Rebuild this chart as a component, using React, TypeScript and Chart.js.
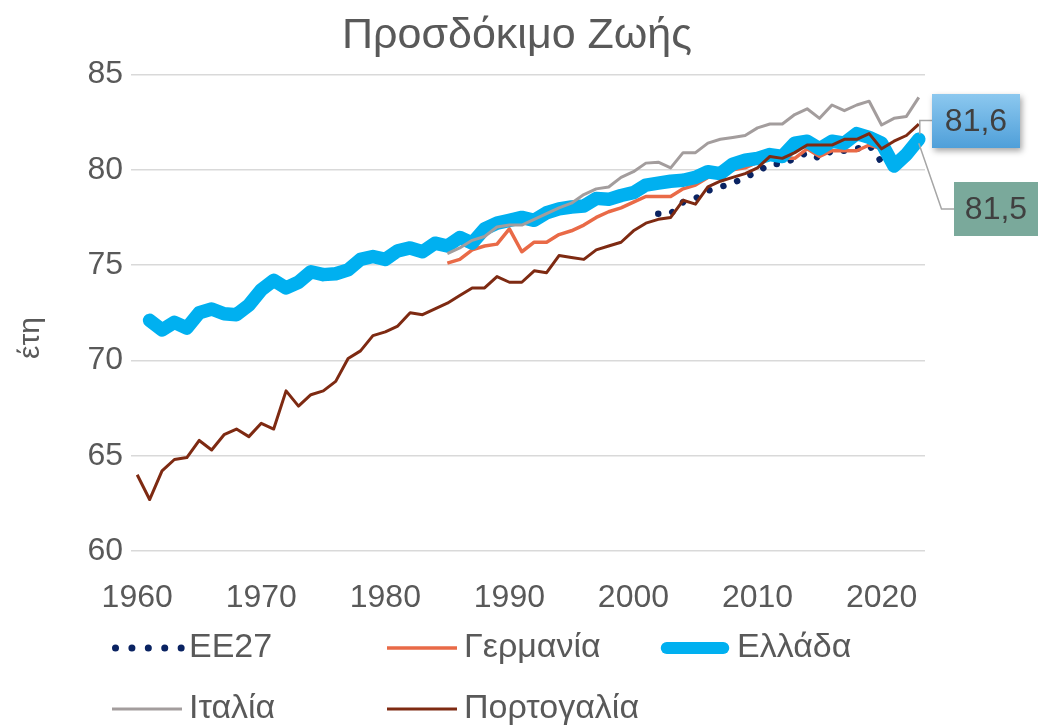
import React, { useEffect, useRef } from 'react';
import { Chart, registerables } from 'chart.js';

Chart.register(...registerables);

const FONT = "'Liberation Sans', Arial, sans-serif";
const TEXT_COLOR = '#595959';

const titleText = 'Προσδόκιμο Ζωής';
const yAxisTitle = 'έτη';

const years = [
  '1960', '1961', '1962', '1963', '1964', '1965', '1966', '1967', '1968', '1969',
  '1970', '1971', '1972', '1973', '1974', '1975', '1976', '1977', '1978', '1979',
  '1980', '1981', '1982', '1983', '1984', '1985', '1986', '1987', '1988', '1989',
  '1990', '1991', '1992', '1993', '1994', '1995', '1996', '1997', '1998', '1999',
  '2000', '2001', '2002', '2003', '2004', '2005', '2006', '2007', '2008', '2009',
  '2010', '2011', '2012', '2013', '2014', '2015', '2016', '2017', '2018', '2019',
  '2020', '2021', '2022', '2023',
];
const shownTickYears = ['1960', '1970', '1980', '1990', '2000', '2010', '2020'];
const yTicks = [60, 65, 70, 75, 80, 85];

// EE27 from 2002
const eu27Start = '2002';
const eu27 = [
  77.7, 77.7, 78.3, 78.5, 78.9, 79.1, 79.3, 79.6, 79.9, 80.3,
  80.3, 80.6, 80.9, 80.6, 81.0, 81.0, 81.1, 81.3, 80.4, 80.1,
  80.6, 81.5,
];

// Germany from 1985
const germanyStart = '1985';
const germany = [
  75.1, 75.3, 75.8, 76.0, 76.1, 76.9, 75.7, 76.2, 76.2, 76.6,
  76.8, 77.1, 77.5, 77.8, 78.0, 78.3, 78.6, 78.6, 78.6, 79.0,
  79.2, 79.6, 79.9, 80.0, 80.1, 80.4, 80.7, 80.6, 80.6, 81.1,
  80.7, 81.0, 81.0, 81.0, 81.3, 81.1,
];

// Greece from 1961
const greeceStart = '1961';
const greece = [
  72.1, 71.6, 72.0, 71.7, 72.5, 72.7, 72.45, 72.4, 72.9,
  73.7, 74.2, 73.8, 74.1, 74.65, 74.5, 74.55, 74.75, 75.3, 75.45,
  75.3, 75.75, 75.9, 75.7, 76.15, 76.0, 76.45, 76.15, 76.9, 77.2,
  77.35, 77.5, 77.35, 77.75, 77.95, 78.05, 78.1, 78.5, 78.45, 78.65,
  78.8, 79.2, 79.3, 79.4, 79.45, 79.6, 79.9, 79.8, 80.3, 80.5,
  80.6, 80.8, 80.7, 81.4, 81.5, 81.1, 81.5, 81.4, 81.9, 81.7,
  81.4, 80.2, 80.8, 81.6,
];

// Italy from 1985
const italyStart = '1985';
const italy = [
  75.6, 75.9, 76.3, 76.5, 77.0, 77.1, 77.1, 77.4, 77.7, 78.0,
  78.25, 78.7, 79.0, 79.1, 79.6, 79.9, 80.35, 80.4, 80.1, 80.9,
  80.9, 81.4, 81.6, 81.7, 81.8, 82.2, 82.4, 82.4, 82.9, 83.2,
  82.7, 83.4, 83.1, 83.4, 83.6, 82.35, 82.7, 82.8, 83.8,
];

// Portugal from 1960
const portugalStart = '1960';
const portugal = [
  64.0, 62.7, 64.2, 64.8, 64.9, 65.8, 65.3, 66.1, 66.4, 66.0,
  66.7, 66.4, 68.4, 67.6, 68.2, 68.4, 68.9, 70.1, 70.5, 71.3,
  71.5, 71.8, 72.5, 72.4, 72.7, 73.0, 73.4, 73.8, 73.8, 74.4,
  74.1, 74.1, 74.7, 74.6, 75.5, 75.4, 75.3, 75.8, 76.0, 76.2,
  76.8, 77.2, 77.4, 77.5, 78.4, 78.2, 79.1, 79.4, 79.6, 79.8,
  80.1, 80.7, 80.6, 80.9, 81.3, 81.3, 81.3, 81.6, 81.6, 81.9,
  81.1, 81.5, 81.8, 82.4,
];

const seriesLabels = ['ΕΕ27', 'Γερμανία', 'Ελλάδα', 'Ιταλία', 'Πορτογαλία'];
const labelGreece = '81,6';
const labelEu = '81,5';

function align(start: string, values: number[]): (number | null)[] {
  const offset = years.indexOf(start);
  return years.map((_, i) => {
    const k = i - offset;
    return k >= 0 && k < values.length ? values[k] : null;
  });
}

const overlayPlugin = {
  id: 'overlay',
  afterDraw(chart: any) {
    const ctx: CanvasRenderingContext2D = chart.ctx;
    const datasets = chart.data.datasets;

    // ---- title ----
    ctx.save();
    ctx.font = `43px ${FONT}`;
    ctx.fillStyle = TEXT_COLOR;
    ctx.textAlign = 'center';
    ctx.textBaseline = 'middle';
    ctx.fillText(titleText, 517, 36);
    ctx.restore();

    // ---- y axis title ----
    ctx.save();
    ctx.translate(31, 338);
    ctx.rotate(-Math.PI / 2);
    ctx.font = `30px ${FONT}`;
    ctx.fillStyle = TEXT_COLOR;
    ctx.textAlign = 'center';
    ctx.textBaseline = 'middle';
    ctx.fillText(yAxisTitle, 0, 0);
    ctx.restore();

    // ---- legend ----
    const colX = [112, 387, 660];
    const rowY = [648, 709];
    datasets.forEach((ds: any, i: number) => {
      const x0 = colX[i % 3];
      const y = rowY[Math.floor(i / 3)];
      ctx.save();
      ctx.strokeStyle = ds.borderColor;
      ctx.lineWidth = ds.borderWidth;
      ctx.lineCap = ds.borderCapStyle || 'butt';
      ctx.beginPath();
      if (ds.borderDash && ds.borderDash.length) {
        ctx.lineWidth = 7;
        ctx.setLineDash([0.01, 16.4]);
        ctx.moveTo(x0 + 3.5, y);
        ctx.lineTo(x0 + 71, y);
      } else if (ctx.lineCap === 'round') {
        const r = ds.borderWidth / 2;
        ctx.lineWidth = 12;
        ctx.moveTo(x0 + r, y);
        ctx.lineTo(x0 + 70 - r, y);
      } else {
        ctx.moveTo(x0, y);
        ctx.lineTo(x0 + 70, y);
      }
      ctx.stroke();
      ctx.restore();
      ctx.save();
      ctx.font = `34px ${FONT}`;
      ctx.fillStyle = TEXT_COLOR;
      ctx.textAlign = 'left';
      ctx.textBaseline = 'middle';
      ctx.fillText(ds.label, x0 + 77, y);
      ctx.restore();
    });

    // ---- data labels ----
    const greeceMeta = chart.getDatasetMeta(2);
    const euMeta = chart.getDatasetMeta(0);
    const gp = greeceMeta.data[greeceMeta.data.length - 1];
    const ep = euMeta.data[euMeta.data.length - 1];

    ctx.save();
    ctx.strokeStyle = '#a6a6a6';
    ctx.lineWidth = 1.5;
    ctx.beginPath();
    ctx.moveTo(932, 120.5);
    ctx.lineTo(gp.x + 1, 120.5);
    ctx.lineTo(gp.x + 1, gp.y - 5);
    ctx.stroke();
    ctx.beginPath();
    ctx.moveTo(ep.x, ep.y + 2);
    ctx.lineTo(941.5, 209);
    ctx.lineTo(954, 209);
    ctx.stroke();
    ctx.restore();

    ctx.save();
    ctx.shadowColor = 'rgba(0,0,0,0.35)';
    ctx.shadowBlur = 6;
    ctx.shadowOffsetX = 2;
    ctx.shadowOffsetY = 3;
    const g = ctx.createLinearGradient(0, 94, 0, 148);
    g.addColorStop(0, '#8cc8ef');
    g.addColorStop(1, '#4f9fd9');
    ctx.fillStyle = g;
    ctx.fillRect(932, 94, 88, 54);
    ctx.restore();

    ctx.save();
    ctx.fillStyle = '#7aa99b';
    ctx.fillRect(954, 182, 84, 54);
    ctx.restore();

    ctx.save();
    ctx.font = `32px ${FONT}`;
    ctx.fillStyle = '#404040';
    ctx.textAlign = 'center';
    ctx.textBaseline = 'middle';
    ctx.fillText(labelGreece, 976, 122);
    ctx.fillText(labelEu, 996, 210);
    ctx.restore();
  },
};

export default function App() {
  const canvasRef = useRef<HTMLCanvasElement | null>(null);

  useEffect(() => {
    const canvas = canvasRef.current;
    if (!canvas) return;
    const chart = new Chart(canvas, {
      type: 'line',
      data: {
        labels: years,
        datasets: [
          {
            label: seriesLabels[0],
            data: align(eu27Start, eu27),
            borderColor: '#0a2362',
            borderWidth: 6.5,
            borderDash: [0.01, 14.6],
            borderCapStyle: 'round',
            pointRadius: 0,
            tension: 0,
            order: 4,
          },
          {
            label: seriesLabels[1],
            data: align(germanyStart, germany),
            borderColor: '#e96a47',
            borderWidth: 3.5,
            borderCapStyle: 'butt',
            borderJoinStyle: 'round',
            pointRadius: 0,
            tension: 0,
            order: 3,
          },
          {
            label: seriesLabels[2],
            data: align(greeceStart, greece),
            borderColor: '#00b0f0',
            borderWidth: 13.5,
            borderCapStyle: 'round',
            borderJoinStyle: 'round',
            pointRadius: 0,
            tension: 0,
            order: 2,
          },
          {
            label: seriesLabels[3],
            data: align(italyStart, italy),
            borderColor: '#a39d9d',
            borderWidth: 3,
            borderCapStyle: 'butt',
            borderJoinStyle: 'round',
            pointRadius: 0,
            tension: 0,
            order: 1,
          },
          {
            label: seriesLabels[4],
            data: align(portugalStart, portugal),
            borderColor: '#7e2a12',
            borderWidth: 3,
            borderCapStyle: 'butt',
            borderJoinStyle: 'round',
            pointRadius: 0,
            tension: 0,
            order: 0,
          },
        ],
      },
      options: {
        responsive: false,
        animation: false,
        devicePixelRatio: 1,
        events: [],
        layout: { padding: { top: 74.5, right: 113, bottom: 0, left: 0 } },
        plugins: {
          legend: { display: false },
          tooltip: { enabled: false },
          title: { display: false },
        },
        scales: {
          x: {
            type: 'category',
            offset: true,
            grid: { display: false, drawTicks: false },
            border: { display: false },
            ticks: {
              autoSkip: false,
              maxRotation: 0,
              minRotation: 0,
              padding: 28,
              color: TEXT_COLOR,
              font: { family: FONT, size: 32 },
              callback: (_v: any, i: number) => (shownTickYears.includes(years[i]) ? years[i] : ''),
            },
            afterFit: (scale: any) => {
              scale.height = 174;
            },
          },
          y: {
            min: yTicks[0],
            max: yTicks[yTicks.length - 1],
            afterBuildTicks: (scale: any) => {
              scale.ticks = yTicks.map((v) => ({ value: v }));
            },
            grid: { color: '#d9d9d9', lineWidth: 1.5, drawTicks: false },
            border: { display: false },
            ticks: {
              padding: 8,
              color: TEXT_COLOR,
              font: { family: FONT, size: 32 },
            },
            afterFit: (scale: any) => {
              scale.width = 131;
            },
          },
        },
      },
      plugins: [overlayPlugin],
    });
    return () => chart.destroy();
  }, []);

  return (
    <div style={{ position: 'fixed', left: 0, top: 0, width: 1038, height: 725, background: '#ffffff' }}>
      <canvas ref={canvasRef} width={1038} height={725} style={{ display: 'block' }} />
    </div>
  );
}
